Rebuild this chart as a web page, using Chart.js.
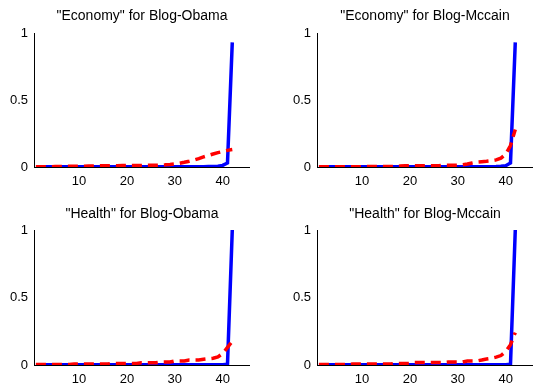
<!DOCTYPE html>
<html>
<head>
<meta charset="utf-8">
<script src="https://cdn.jsdelivr.net/npm/chart.js@4/dist/chart.umd.min.js"></script>
<style>
  html, body { margin: 0; padding: 0; background: #fff; overflow: hidden; width: 533px; height: 385px; }
  canvas { position: absolute; }
</style>
</head>
<body>
<canvas id="econObama" width="250" height="192" style="left:0px;top:0px"></canvas>
<canvas id="econMccain" width="250" height="192" style="left:283px;top:0px"></canvas>
<canvas id="healthObama" width="250" height="193" style="left:0px;top:197px"></canvas>
<canvas id="healthMccain" width="250" height="193" style="left:283px;top:197px"></canvas>
<script>
// Rank positions along the x axis
const ranks = [1, 2, 3, 4, 5, 6, 7, 8, 9, 10, 11, 12, 13, 14, 15, 16, 17, 18, 19, 20, 21,
               22, 23, 24, 25, 26, 27, 28, 29, 30, 31, 32, 33, 34, 35, 36, 37, 38, 39, 40, 41, 42];

// Tick labels
const xTickValues = [10, 20, 30, 40];
const yTickValues = [0, 0.5, 1];

// Panel titles
const panelTitles = [
  '"Economy" for Blog-Obama',
  '"Economy" for Blog-Mccain',
  '"Health" for Blog-Obama',
  '"Health" for Blog-Mccain'
];

// Economy / Obama
const econObamaSolid = [0.002, 0.002, 0.002, 0.002, 0.002, 0.002, 0.002, 0.002, 0.002, 0.002, 0.002,
                        0.002, 0.002, 0.002, 0.002, 0.002, 0.002, 0.002, 0.002, 0.002, 0.002,
                        0.002, 0.002, 0.002, 0.002, 0.002, 0.002, 0.002, 0.002, 0.002, 0.002,
                        0.002, 0.002, 0.002, 0.002, 0.002, 0.003, 0.004, 0.006, 0.012, 0.03, 0.93];
const econObamaDashed = [0.002, 0.002, 0.002, 0.002, 0.003, 0.003, 0.004, 0.005, 0.005, 0.006, 0.006,
                         0.007, 0.008, 0.009, 0.01, 0.01, 0.01, 0.01, 0.011, 0.011, 0.011,
                         0.012, 0.012, 0.012, 0.013, 0.013, 0.014, 0.016, 0.019, 0.023, 0.028,
                         0.035, 0.043, 0.052, 0.063, 0.075, 0.086, 0.097, 0.107, 0.116, 0.124, 0.13];

// Economy / Mccain
const econMccainSolid = [0.002, 0.002, 0.002, 0.002, 0.002, 0.002, 0.002, 0.002, 0.002, 0.002, 0.002,
                         0.002, 0.002, 0.002, 0.002, 0.002, 0.002, 0.002, 0.002, 0.002, 0.002,
                         0.002, 0.002, 0.002, 0.002, 0.002, 0.002, 0.002, 0.002, 0.002, 0.002,
                         0.002, 0.002, 0.002, 0.002, 0.002, 0.002, 0.003, 0.005, 0.01, 0.03, 0.93];
const econMccainDashed = [0.002, 0.002, 0.002, 0.002, 0.002, 0.002, 0.002, 0.002, 0.002, 0.002, 0.004,
                          0.004, 0.004, 0.004, 0.004, 0.004, 0.004, 0.007, 0.01, 0.01, 0.01,
                          0.01, 0.01, 0.01, 0.01, 0.01, 0.013, 0.013, 0.013, 0.013, 0.017,
                          0.022, 0.03, 0.037, 0.04, 0.043, 0.047, 0.053, 0.066, 0.095, 0.16, 0.28];

// Health / Obama
const healthObamaSolid = [0.002, 0.002, 0.002, 0.002, 0.002, 0.002, 0.002, 0.002, 0.002, 0.002, 0.002,
                          0.002, 0.002, 0.002, 0.002, 0.002, 0.002, 0.002, 0.002, 0.002, 0.002,
                          0.002, 0.002, 0.002, 0.002, 0.002, 0.002, 0.002, 0.002, 0.002, 0.002,
                          0.002, 0.002, 0.002, 0.002, 0.002, 0.002, 0.002, 0.002, 0.002, 0.005, 1.0];
const healthObamaDashed = [0.003, 0.003, 0.003, 0.003, 0.003, 0.003, 0.003, 0.003, 0.008, 0.008, 0.008,
                           0.008, 0.008, 0.008, 0.008, 0.008, 0.012, 0.012, 0.012, 0.012, 0.012,
                           0.012, 0.017, 0.017, 0.017, 0.017, 0.022, 0.022, 0.022, 0.03, 0.03,
                           0.03, 0.037, 0.037, 0.037, 0.042, 0.046, 0.05, 0.06, 0.085, 0.13, 0.175];

// Health / Mccain
const healthMccainSolid = [0.002, 0.002, 0.002, 0.002, 0.002, 0.002, 0.002, 0.002, 0.002, 0.002, 0.002,
                           0.002, 0.002, 0.002, 0.002, 0.002, 0.002, 0.002, 0.002, 0.002, 0.002,
                           0.002, 0.002, 0.002, 0.002, 0.002, 0.002, 0.002, 0.002, 0.002, 0.002,
                           0.002, 0.002, 0.002, 0.002, 0.002, 0.002, 0.002, 0.002, 0.002, 0.005, 1.0];
const healthMccainDashed = [0.003, 0.003, 0.003, 0.003, 0.003, 0.003, 0.003, 0.007, 0.007, 0.007, 0.007,
                            0.007, 0.007, 0.007, 0.007, 0.007, 0.012, 0.012, 0.012, 0.012, 0.018,
                            0.018, 0.018, 0.018, 0.018, 0.018, 0.018, 0.022, 0.022, 0.022, 0.022,
                            0.03, 0.03, 0.03, 0.037, 0.045, 0.05, 0.058, 0.07, 0.1, 0.15, 0.24];

const SOLID_COLOR = '#0000ff';
const DASHED_COLOR = '#ff0000';
const FONT_FAMILY = '"Liberation Sans", Arial, Helvetica, sans-serif';

Chart.defaults.color = '#000';
Chart.defaults.font.family = FONT_FAMILY;

function toPoints(values) {
  return ranks.map((r, i) => ({ x: r, y: values[i] }));
}

function makePanel(canvasId, title, solid, dashed, titlePadding) {
  return new Chart(document.getElementById(canvasId), {
    type: 'line',
    data: {
      datasets: [
        {
          data: toPoints(dashed),
          borderColor: DASHED_COLOR,
          borderWidth: 3.5,
          borderDash: [10, 6],
          pointRadius: 0,
          fill: false,
          tension: 0
        },
        {
          data: toPoints(solid),
          borderColor: SOLID_COLOR,
          borderWidth: 3.5,
          pointRadius: 0,
          fill: false,
          tension: 0
        }
      ]
    },
    options: {
      responsive: false,
      animation: false,
      devicePixelRatio: 1,
      layout: { padding: 0 },
      plugins: {
        legend: { display: false },
        tooltip: { enabled: false },
        title: {
          display: true,
          text: title,
          fullSize: false,
          color: '#000',
          font: { size: 14, weight: 'normal', family: FONT_FAMILY },
          padding: titlePadding
        }
      },
      scales: {
        x: {
          type: 'linear',
          min: 0.6,
          max: 45.7,
          grid: { display: false, drawTicks: false },
          border: { display: true, color: '#000', width: 1 },
          ticks: {
            padding: 7,
            maxRotation: 0,
            autoSkip: false,
            color: '#000',
            font: { size: 13 },
            callback: v => String(v)
          },
          afterBuildTicks: s => { s.ticks = xTickValues.map(v => ({ value: v })); },
          afterFit: s => { s.height = 25; }
        },
        y: {
          min: 0,
          max: 1,
          grid: { display: false, drawTicks: false },
          border: { display: true, color: '#000', width: 1 },
          ticks: {
            padding: 6,
            color: '#000',
            font: { size: 13 },
            callback: v => String(v)
          },
          afterBuildTicks: s => { s.ticks = yTickValues.map(v => ({ value: v })); },
          afterFit: s => { s.width = 34; }
        }
      }
    }
  });
}

const topPad = { top: 7.6, bottom: 8.6 };
const bottomPad = { top: 8.8, bottom: 7.4 };

makePanel('econObama', panelTitles[0], econObamaSolid, econObamaDashed, topPad);
makePanel('econMccain', panelTitles[1], econMccainSolid, econMccainDashed, topPad);
makePanel('healthObama', panelTitles[2], healthObamaSolid, healthObamaDashed, bottomPad);
makePanel('healthMccain', panelTitles[3], healthMccainSolid, healthMccainDashed, bottomPad);
</script>
</body>
</html>
